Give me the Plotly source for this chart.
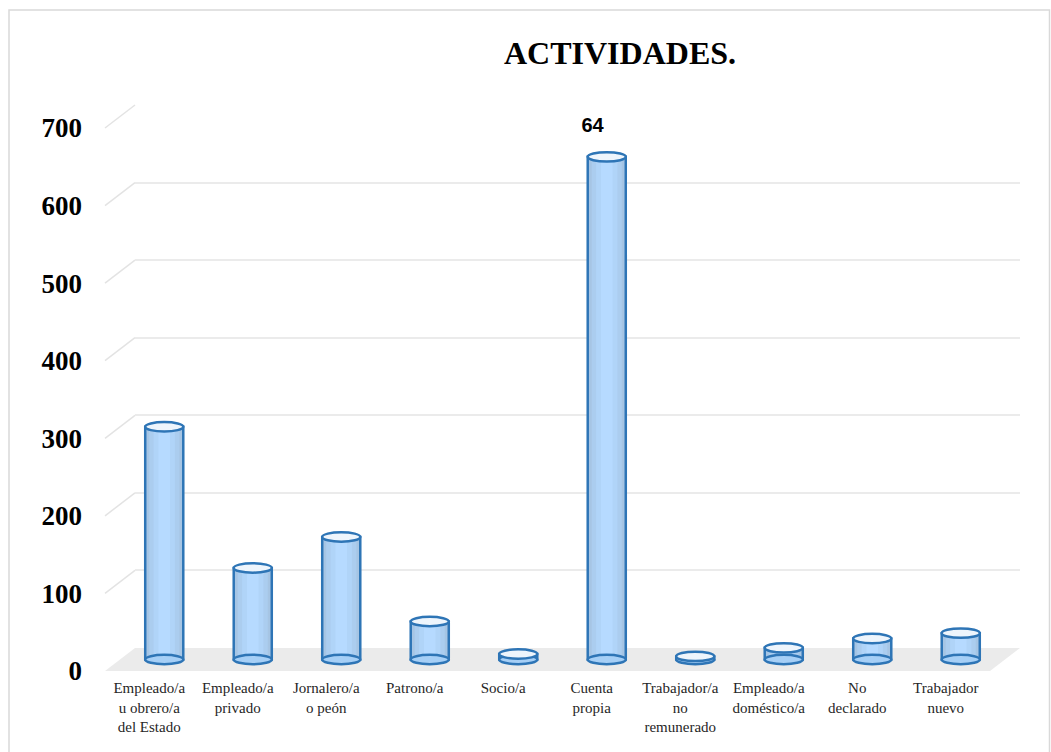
import plotly.graph_objects as go

# ---- data -------------------------------------------------------------
categories = [
    "Empleado/a u obrero/a del Estado",
    "Empleado/a privado",
    "Jornalero/a o peón",
    "Patrono/a",
    "Socio/a",
    "Cuenta propia",
    "Trabajador/a no remunerado",
    "Empleado/a doméstico/a",
    "No declarado",
    "Trabajador nuevo",
]
tick_labels = [
    "Empleado/a<br>u obrero/a<br>del Estado",
    "Empleado/a<br>privado",
    "Jornalero/a<br>o peón",
    "Patrono/a",
    "Socio/a",
    "Cuenta<br>propia",
    "Trabajador/a<br>no<br>remunerado",
    "Empleado/a<br>doméstico/a",
    "No<br>declarado",
    "Trabajador<br>nuevo",
]
values = [300, 118, 158, 49, 7, 648, 4, 15, 27, 34]
# data label as printed on the chart (its box is narrower than the number)
data_labels = {5: "64"}
y_ticks = [0, 100, 200, 300, 400, 500, 600, 700]
title_text = "ACTIVIDADES."

# ---- page / pseudo-3D geometry (pixels) -------------------------------
W, H = 1051, 752
FRONT_X0, FRONT_X1 = 105, 990      # front plane left / right
FRONT_ZERO = 671                   # front plane baseline
DEPTH_DX, DEPTH_DY = 30, -23       # shift from front plane to back wall
PX_PER_UNIT = 0.7757
Y_MAX = 700
Y_PAD = 20                         # room under the baseline for cylinder bases


def px(x):
    return x / W


def py(y):
    return 1 - y / H


def plane(t, y_min=0):
    """x-domain and y-domain (paper) of a plane at depth t (0 front, 1 back)."""
    x0 = FRONT_X0 + DEPTH_DX * t
    x1 = FRONT_X1 + DEPTH_DX * t
    y_zero = FRONT_ZERO + DEPTH_DY * t
    y0 = y_zero - y_min * PX_PER_UNIT
    y1 = y_zero - Y_MAX * PX_PER_UNIT
    return [px(x0), px(x1)], [py(y0), py(y1)]


back_x, back_y = plane(1.0)
mid_x, mid_y = plane(0.5, -Y_PAD)
front_x, front_y = plane(0.0)

fig = go.Figure()

# back wall subplot (gridlines only)
fig.add_trace(go.Scatter(x=categories, y=[0] * len(categories), mode="markers",
                         marker=dict(opacity=0), xaxis="x", yaxis="y",
                         hoverinfo="skip", showlegend=False))

# cylinders on the mid plane: stacked widths give a rounded shading
BAR_W = 0.43
shade = [
    (BAR_W, "#a6c5e4", dict(color="#2e75b6", width=2.5)),
    (0.34, "#abcdef", dict(width=0)),
    (0.24, "#b0d4f8", dict(width=0)),
    (0.13, "#b6daff", dict(width=0)),
]
for w, col, ln in shade:
    fig.add_trace(go.Bar(x=categories, y=values, width=w, xaxis="x2", yaxis="y2",
                         marker=dict(color=col, line=ln),
                         hoverinfo="skip", showlegend=False))

# front plane subplot (tick labels)
fig.add_trace(go.Scatter(x=categories, y=[0] * len(categories), mode="markers",
                         marker=dict(opacity=0), xaxis="x3", yaxis="y3",
                         hoverinfo="skip", showlegend=False))

shapes = []

# outer frame
shapes.append(dict(type="rect", xref="paper", yref="paper",
                   x0=px(9), x1=px(1049.5), y0=py(10), y1=py(760),
                   line=dict(color="#d9d9d9", width=1.5), layer="below"))

# floor
fx0, fx1, fy = FRONT_X0, FRONT_X1, FRONT_ZERO
bx0, bx1, by = FRONT_X0 + DEPTH_DX, FRONT_X1 + DEPTH_DX, FRONT_ZERO + DEPTH_DY
shapes.append(dict(
    type="path", xref="paper", yref="paper", layer="below",
    path=f"M {px(fx0)},{py(fy)} L {px(fx1)},{py(fy)} L {px(bx1)},{py(by)} "
         f"L {px(bx0)},{py(by)} Z",
    fillcolor="#ebebeb", line=dict(width=0)))

# left wall edges joining the front ticks to the back gridlines
for v in y_ticks[1:]:
    yf = FRONT_ZERO - v * PX_PER_UNIT
    shapes.append(dict(type="line", xref="paper", yref="paper", layer="below",
                       x0=px(FRONT_X0), y0=py(yf),
                       x1=px(FRONT_X0 + DEPTH_DX), y1=py(yf + DEPTH_DY),
                       line=dict(color="#e3e3e3", width=1.5)))

# cylinder ends
ELL_H = 4.7 / PX_PER_UNIT
EDGE = "#2e75b6"
for i, v in enumerate(values):
    shapes.append(dict(type="circle", xref="x2", yref="y2", layer="above",
                       x0=i - BAR_W / 2, x1=i + BAR_W / 2, y0=-ELL_H, y1=ELL_H,
                       fillcolor="#a6cff6", line=dict(color=EDGE, width=2.5)))
    shapes.append(dict(type="circle", xref="x2", yref="y2", layer="above",
                       x0=i - BAR_W / 2, x1=i + BAR_W / 2, y0=v - ELL_H, y1=v + ELL_H,
                       fillcolor="#eef5fc", line=dict(color=EDGE, width=2.5)))

annotations = []
for i, txt in data_labels.items():
    annotations.append(dict(
        x=categories[i], y=values[i], xref="x2", yref="y2",
        text=f"<b>{txt}</b>", showarrow=False, xshift=-14, yshift=32,
        width=74, height=44, bgcolor="white", borderpad=0,
        font=dict(family="Liberation Sans", size=20, color="#000000")))

axis_hidden = dict(showgrid=False, zeroline=False, showline=False,
                   showticklabels=False, ticks="", automargin=False)

fig.update_layout(
    width=W, height=H,
    margin=dict(l=0, r=0, t=0, b=0, pad=0),
    paper_bgcolor="white", plot_bgcolor="rgba(0,0,0,0)",
    barmode="overlay",
    showlegend=False,
    title=dict(text=f"<b>{title_text}</b>", x=px(620), y=py(53),
               xanchor="center", yanchor="middle", automargin=False,
               font=dict(family="Liberation Serif", size=32, color="#000000")),
    xaxis=dict(domain=back_x, range=[-0.5, 9.5], anchor="y", **axis_hidden),
    yaxis=dict(domain=back_y, range=[0, Y_MAX], anchor="x",
               showgrid=True, gridcolor="#ebebeb", gridwidth=1.8,
               tickvals=y_ticks[1:], zeroline=False, showline=False,
               showticklabels=False, ticks="", automargin=False),
    xaxis2=dict(domain=mid_x, range=[-0.5, 9.5], anchor="y2", **axis_hidden),
    yaxis2=dict(domain=mid_y, range=[-Y_PAD, Y_MAX], anchor="x2", **axis_hidden),
    xaxis3=dict(domain=front_x, range=[-0.5, 9.5], anchor="y3", automargin=False,
                showgrid=False, zeroline=False, showline=False, ticks="",
                tickvals=categories, ticktext=tick_labels,
                ticklabelstandoff=6,
                tickfont=dict(family="Liberation Serif", size=15, color="#262626")),
    yaxis3=dict(domain=front_y, range=[0, Y_MAX], anchor="x3", automargin=False,
                showgrid=False, zeroline=False, showline=False, ticks="",
                tickvals=y_ticks, ticklabelstandoff=22,
                tickfont=dict(family="Liberation Serif", size=27, color="#000000",
                              weight="bold")),
    shapes=shapes,
    annotations=annotations,
)

fig.write_html("out.html")
